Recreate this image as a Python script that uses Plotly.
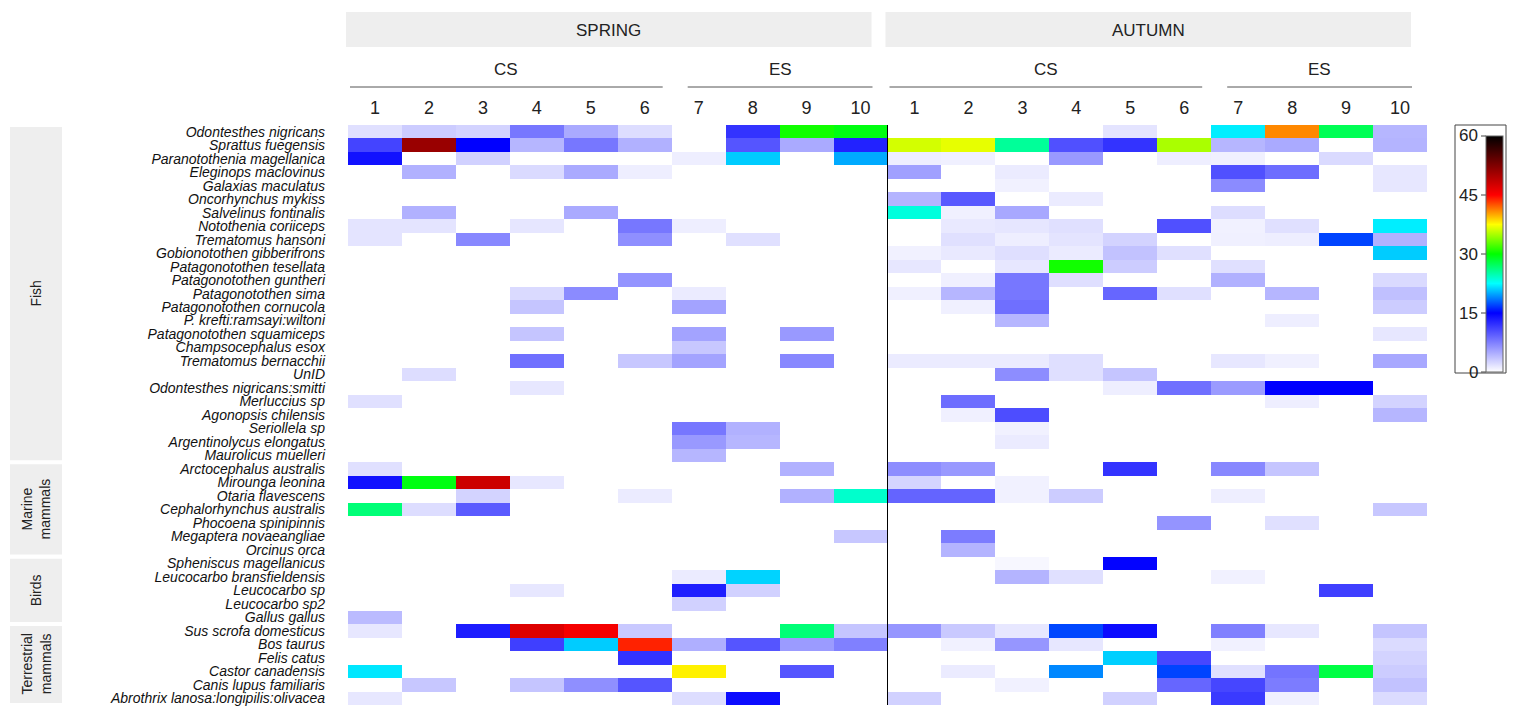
import plotly.graph_objects as go

# the page body has an 8px margin, so the figure is drawn 8px in from the corner
OFF = 8
W, H = 1517 - OFF, 717 - OFF

species = [
    "Odontesthes nigricans", "Sprattus fuegensis", "Paranotothenia magellanica",
    "Eleginops maclovinus", "Galaxias maculatus", "Oncorhynchus mykiss",
    "Salvelinus fontinalis", "Notothenia coriiceps", "Trematomus hansoni",
    "Gobionotothen gibberifrons", "Patagonotothen tesellata", "Patagonotothen guntheri",
    "Patagonotothen sima", "Patagonotothen cornucola", "P. krefti:ramsayi:wiltoni",
    "Patagonotothen squamiceps", "Champsocephalus esox", "Trematomus bernacchii",
    "UnID", "Odontesthes nigricans:smitti", "Merluccius sp", "Agonopsis chilensis",
    "Seriollela sp", "Argentinolycus elongatus", "Maurolicus muelleri",
    "Arctocephalus australis", "Mirounga leonina", "Otaria flavescens",
    "Cephalorhynchus australis", "Phocoena spinipinnis", "Megaptera novaeangliae",
    "Orcinus orca",
    "Spheniscus magellanicus", "Leucocarbo bransfieldensis", "Leucocarbo sp",
    "Leucocarbo sp2", "Gallus gallus",
    "Sus scrofa domesticus", "Bos taurus", "Felis catus", "Castor canadensis",
    "Canis lupus familiaris", "Abrothrix lanosa:longipilis:olivacea",
]

groups = ["Fish", "Marine<br>mammals", "Birds", "Terrestrial<br>mammals"]
group_sizes = [25, 7, 5, 6]

seasons = ["SPRING", "AUTUMN"]
sites = ["CS", "ES"]
site_samples = [6, 4]
sample_labels = [str(i) for i in range(1, 11)]

# one row per species, columns = samples 1..10
spring = [
    [1.8, 3, 2.6, 8, 5, 2, 0, 12, 30.5, 29.5],
    [11, 51, 15, 4.3, 8, 4.6, 0, 10, 5, 13],
    [14, 0, 2.7, 0, 0, 0, 1, 21, 0, 20],
    [0, 4.6, 0, 2.2, 5, 1, 0, 0, 0, 0],
    [0, 0, 0, 0, 0, 0, 0, 0, 0, 0],
    [0, 0, 0, 0, 0, 0, 0, 0, 0, 0],
    [0, 4.6, 0, 0, 5, 0, 0, 0, 0, 0],
    [1.6, 1.6, 0, 1.5, 0, 8, 1, 0, 0, 0],
    [1.6, 0, 7, 0, 0, 6.6, 0, 1.8, 0, 0],
    [0, 0, 0, 0, 0, 0, 0, 0, 0, 0],
    [0, 0, 0, 0, 0, 0, 0, 0, 0, 0],
    [0, 0, 0, 0, 0, 6.3, 0, 0, 0, 0],
    [0, 0, 0, 2.2, 6.8, 0, 1.2, 0, 0, 0],
    [0, 0, 0, 3.4, 0, 0, 5.4, 0, 0, 0],
    [0, 0, 0, 0, 0, 0, 0, 0, 0, 0],
    [0, 0, 0, 3.4, 0, 0, 5.4, 0, 6, 0],
    [0, 0, 0, 0, 0, 0, 3.3, 0, 0, 0],
    [0, 0, 0, 8.4, 0, 3.3, 5.4, 0, 7, 0],
    [0, 2, 0, 0, 0, 0, 0, 0, 0, 0],
    [0, 0, 0, 1.4, 0, 0, 0, 0, 0, 0],
    [1.8, 0, 0, 0, 0, 0, 0, 0, 0, 0],
    [0, 0, 0, 0, 0, 0, 0, 0, 0, 0],
    [0, 0, 0, 0, 0, 0, 8, 4.6, 0, 0],
    [0, 0, 0, 0, 0, 0, 6, 4.3, 0, 0],
    [0, 0, 0, 0, 0, 0, 4.3, 0, 0, 0],
    [1.8, 0, 0, 0, 0, 0, 0, 0, 4.6, 0],
    [14, 29.5, 48, 1.4, 0, 0, 0, 0, 0, 0],
    [0, 0, 2.6, 0, 0, 1.2, 0, 0, 4.6, 24],
    [26.5, 2, 9.7, 0, 0, 0, 0, 0, 0, 0],
    [0, 0, 0, 0, 0, 0, 0, 0, 0, 0],
    [0, 0, 0, 0, 0, 0, 0, 0, 0, 3.3],
    [0, 0, 0, 0, 0, 0, 0, 0, 0, 0],
    [0, 0, 0, 0, 0, 0, 0, 0, 0, 0],
    [0, 0, 0, 0, 0, 0, 1.2, 21.2, 0, 0],
    [0, 0, 0, 1.4, 0, 0, 13.2, 2.7, 0, 0],
    [0, 0, 0, 0, 0, 0, 2.7, 0, 0, 0],
    [4, 0, 0, 0, 0, 0, 0, 0, 0, 0],
    [1.4, 0, 13.3, 47, 45.6, 3.2, 0, 0, 26.5, 3.4],
    [0, 0, 0, 11.3, 21, 44, 4.7, 10, 5.9, 7.5],
    [0, 0, 0, 0, 0, 12, 0, 0, 0, 0],
    [21.8, 0, 0, 0, 0, 0, 37.9, 0, 10, 0],
    [0, 3.3, 0, 3.4, 6.6, 10, 0, 0, 0, 0],
    [1.4, 0, 0, 0, 0, 0, 2, 14.3, 0, 0],
]

autumn = [
    [0, 0, 0, 0, 1.6, 0, 22, 41, 27.5, 4.3],
    [36.2, 36.8, 25.5, 10.3, 12, 35, 4.3, 5, 0, 4.4],
    [1, 0.9, 0, 6, 0, 1, 0.9, 0, 2.2, 0],
    [5.6, 0, 1.2, 0, 0, 0, 10.3, 8.6, 0, 1.4],
    [0, 0, 0.8, 0, 0, 0, 6.8, 0, 0, 1.4],
    [4.4, 9.8, 0, 1.2, 0, 0, 0, 0, 0, 0],
    [23.5, 0.9, 5.1, 0, 0, 0, 2, 0, 0, 0],
    [0, 1.3, 1.5, 1.8, 0, 10.3, 0.8, 1.8, 0, 22],
    [0, 1.8, 1, 1.6, 2.6, 0, 0.9, 1, 17, 4.6],
    [0.8, 1.3, 1.9, 1.2, 3.6, 1.8, 0, 0, 0, 21],
    [1.4, 0, 1.4, 30.5, 3, 0, 1.8, 0, 0, 0],
    [0, 0.9, 8, 1.9, 0, 0, 4.6, 0, 0, 2.2],
    [0.9, 4.3, 8, 0, 9, 1.8, 0, 4.3, 0, 3.7],
    [0, 0.9, 8.5, 0, 0, 0, 0, 0, 0, 3],
    [0, 0, 4.3, 0, 0, 0, 0, 1, 0, 0],
    [0, 0, 0, 0, 0, 0, 0, 0, 0, 1.4],
    [0, 0, 0, 0, 0, 0, 0, 0, 0, 0],
    [1.2, 1.2, 1.2, 1.9, 0, 0, 1.4, 0.9, 0, 5.1],
    [0, 0, 6.7, 1.9, 3.4, 0, 0, 0, 0, 0],
    [0, 0, 0, 0, 1, 8.4, 5.9, 15, 15, 0],
    [0, 8.6, 0, 0, 0, 0, 0, 1, 0, 2.6],
    [0, 0.9, 10.5, 0, 0, 0, 0, 0, 0, 4.3],
    [0, 0, 0.8, 0, 0, 0, 0, 0, 0, 0],
    [0, 0, 1.2, 0, 0, 0, 0, 0, 0, 0],
    [0, 0, 0, 0, 0, 0, 0, 0, 0, 0],
    [6.7, 6, 0, 0, 12, 0, 7, 3.4, 0, 0],
    [2.5, 0, 0.8, 0, 0, 0, 0, 0, 0, 0],
    [9.1, 9.1, 0.8, 3, 0, 0, 1, 0, 0, 0],
    [0, 0, 0, 0, 0, 0, 0, 0, 0, 3.3],
    [0, 0, 0, 0, 0, 6.3, 0, 1.8, 0, 0],
    [0, 7.7, 0, 0, 0, 0, 0, 0, 0, 0],
    [0, 4.4, 0, 0, 0, 0, 0, 0, 0, 0],
    [0, 0, 0.5, 0, 14.8, 0, 0, 0, 0, 0],
    [0, 0, 4.4, 1.8, 0, 0, 0.8, 0, 0, 0],
    [0, 0, 0, 0, 0, 0, 0, 0, 11.3, 0],
    [0, 0, 0, 0, 0, 0, 0, 0, 0, 0],
    [0, 0, 0, 0, 0, 0, 0, 0, 0, 0],
    [6.2, 3.2, 1.4, 17.1, 14.3, 0, 7.5, 1.4, 0, 3.4],
    [0, 0.8, 6.2, 1.4, 0, 0, 0.8, 0, 0, 2.1],
    [0, 0, 0, 0, 21.1, 10.8, 0, 0, 0, 2.6],
    [0, 1.2, 0, 19, 0, 17, 1.8, 8.2, 28, 3],
    [0, 0, 0.8, 0, 0, 9, 10.9, 7.7, 0, 3.6],
    [2.7, 0, 0, 0, 2.7, 0, 11.6, 0.9, 0, 2.1],
]

cbar_ticks = [0, 15, 30, 45, 60]

colorscale = [
    [0.0, "#ffffff"],
    [0.25, "#0000ff"],
    [0.375, "#00ffff"],
    [0.5, "#00ff00"],
    [0.625, "#ffff00"],
    [0.75, "#ff0000"],
    [1.0, "#000000"],
]


def px(x):
    return (x - OFF) / W


def py(y):
    return 1 - (y - OFF) / H


FONT = "Arial, Liberation Sans, sans-serif"
HEAT_L, HEAT_R, HEAT_T, HEAT_B = 348, 1427, 125, 705
CB_TOP, CB_BOT, CB_X = 136, 372, 1486

z = [s + a for s, a in zip(spring, autumn)]
n_cols = len(z[0])

fig = go.Figure(go.Heatmap(
    z=z,
    x=list(range(n_cols)),
    y=species,
    zmin=0, zmax=60,
    colorscale=colorscale,
    colorbar=dict(
        x=px(CB_X), xanchor="left", xpad=0, ypad=0,
        y=py(CB_TOP), yanchor="top",
        len=CB_BOT - CB_TOP, lenmode="pixels",
        thickness=17, thicknessmode="pixels",
        outlinewidth=1, outlinecolor="#666",
        showticklabels=False, ticks="",
    ),
    hovertemplate="%{y}<br>%{z}<extra></extra>",
))

shapes = []
annotations = []


def label(x, y, text, size=17, xref="paper", yref="paper", **kw):
    kw.setdefault("xanchor", "center")
    annotations.append(dict(x=x, y=y, xref=xref, yref=yref, text=text, showarrow=False,
                            yanchor="middle", font=dict(size=size, color="#222"), **kw))


# season header bands
col_w = (HEAT_R - HEAT_L) / n_cols
for i, name in enumerate(seasons):
    x0 = HEAT_L + i * 10 * col_w - 2
    x1 = x0 + 10 * col_w - 14
    shapes.append(dict(type="rect", xref="paper", yref="paper",
                       x0=px(x0), x1=px(x1), y0=py(47), y1=py(12),
                       fillcolor="#eeeeee", line_width=0, layer="below"))
    label(px((x0 + x1) / 2), py(31), name)
    start = i * 10
    for j, site in enumerate(sites):
        n = site_samples[j]
        lx0 = HEAT_L + start * col_w + (2 if j == 0 else 16)
        lx1 = HEAT_L + (start + n) * col_w - (9 if j == 0 else 15)
        shapes.append(dict(type="line", xref="paper", yref="paper",
                           x0=px(lx0), x1=px(lx1), y0=py(87), y1=py(87),
                           line=dict(color="#555", width=1)))
        label(px((lx0 + lx1) / 2), py(70), site)
        start += n

# divider between seasons
shapes.append(dict(type="line", xref="x", yref="paper", x0=9.5, x1=9.5,
                   y0=py(HEAT_B), y1=py(HEAT_T), line=dict(color="black", width=1)))

# group boxes on the left
start = 0
for g, n in zip(groups, group_sizes):
    y0 = start - 0.5 + 0.15
    y1 = start + n - 0.5 - 0.15
    shapes.append(dict(type="rect", xref="paper", yref="y", x0=px(10), x1=px(62),
                       y0=y0, y1=y1, fillcolor="#eeeeee", line_width=0, layer="below"))
    label(px(36), (y0 + y1) / 2, g, size=14, yref="y", textangle=-90)
    start += n

# colorbar frame and left-side ticks
shapes.append(dict(type="rect", xref="paper", yref="paper", x0=px(1455), x1=px(1506),
                   y0=py(373), y1=py(125), line=dict(color="#444", width=1)))
for t in cbar_ticks:
    yy = CB_BOT - t / 60 * (CB_BOT - CB_TOP)
    shapes.append(dict(type="line", xref="paper", yref="paper", x0=px(CB_X - 5), x1=px(CB_X),
                       y0=py(yy), y1=py(yy), line=dict(color="#444", width=1)))
    label(px(CB_X - 6), py(yy), str(t), xanchor="right")

fig.update_layout(
    width=W, height=H,
    margin=dict(l=0, r=0, t=0, b=0, autoexpand=False),
    paper_bgcolor="white", plot_bgcolor="white",
    font=dict(family=FONT, color="#222"),
    xaxis=dict(domain=[px(HEAT_L), px(HEAT_R)], side="top", automargin=False,
               tickmode="array", tickvals=list(range(n_cols)), ticktext=sample_labels * 2,
               range=[-0.5, n_cols - 0.5], showgrid=False, zeroline=False,
               ticks="", tickfont=dict(size=18, color="#222"), ticklabelstandoff=6),
    yaxis=dict(domain=[py(HEAT_B), py(HEAT_T)], autorange="reversed", automargin=False,
               tickmode="array", tickvals=species, ticktext=species,
               showgrid=False, zeroline=False, ticks="",
               tickfont=dict(size=14, style="italic", color="#111"),
               ticklabelstandoff=22),
    shapes=shapes,
    annotations=annotations,
)

fig.write_html("out.html")
